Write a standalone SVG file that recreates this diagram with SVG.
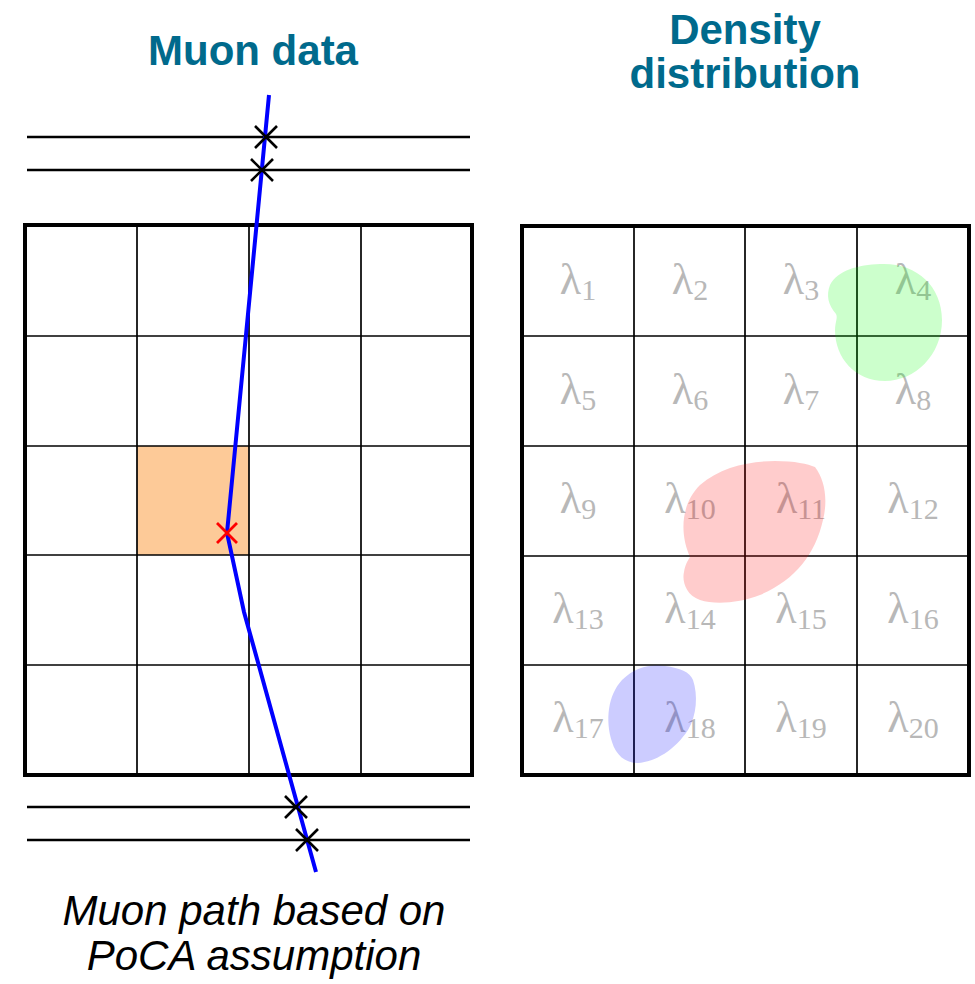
<svg xmlns="http://www.w3.org/2000/svg" width="975" height="984" viewBox="0 0 975 984">
<style>
.title{font-family:"Liberation Sans",Arial,sans-serif;font-weight:bold;font-size:42px;fill:#006a8c;text-anchor:middle}
.cap{font-family:"Liberation Sans",Arial,sans-serif;font-style:italic;font-size:42px;fill:#000;text-anchor:middle}
.lam{font-family:"Liberation Serif","Times New Roman",serif;font-size:44px;fill:#b8b8b8;text-anchor:middle}
.sub{font-size:30px}
.outer{fill:none;stroke:#000;stroke-width:4}
.inner{stroke:#000;stroke-width:1.7}
.det{stroke:#000;stroke-width:2.4}
.xk{stroke:#000;stroke-width:2.6}
</style>
<rect width="975" height="984" fill="#fff"/>
<text class="title" x="253" y="65">Muon data</text>
<text class="title" x="745" y="44">Density</text>
<text class="title" x="745" y="88">distribution</text>
<g id="left-grid">
<rect x="137" y="446" width="112" height="109" fill="#fdca98"/>
<g class="inner">
<line x1="137" y1="225" x2="137" y2="775"/><line x1="249" y1="225" x2="249" y2="775"/><line x1="361" y1="225" x2="361" y2="775"/>
<line x1="25" y1="336" x2="472" y2="336"/><line x1="25" y1="446" x2="472" y2="446"/><line x1="25" y1="555" x2="472" y2="555"/><line x1="25" y1="665" x2="472" y2="665"/>
</g>
<rect class="outer" x="25" y="225" width="447" height="550"/>
</g>
<g id="detectors" class="det">
<line x1="27" y1="137" x2="470" y2="137"/><line x1="27" y1="170" x2="470" y2="170"/>
<line x1="27" y1="807" x2="470" y2="807"/><line x1="27" y1="840" x2="470" y2="840"/>
</g>
<g id="muon-path">
<polyline points="269,95 227,533 244,612 316,872" fill="none" stroke="#0000ff" stroke-width="4"/>
</g>
<g id="hits" class="xk">
<path d="M255,126 L277,148 M277,126 L255,148"/>
<path d="M251,159 L273,181 M273,159 L251,181"/>
<path d="M285,796 L307,818 M307,796 L285,818"/>
<path d="M296,829 L318,851 M318,829 L296,851"/>
</g>
<g id="poca">
<path d="M217,523 L237,543 M237,523 L217,543" stroke="#ff0000" stroke-width="2.8"/>
</g>
<g id="right-grid">
<g class="inner">
<line x1="634" y1="226" x2="634" y2="775"/><line x1="745" y1="226" x2="745" y2="775"/><line x1="857" y1="226" x2="857" y2="775"/>
<line x1="522" y1="336" x2="969" y2="336"/><line x1="522" y1="446" x2="969" y2="446"/><line x1="522" y1="556" x2="969" y2="556"/><line x1="522" y1="665" x2="969" y2="665"/>
</g>
<g class="lam">
<text x="578" y="294">λ<tspan class="sub" dy="6">1</tspan></text>
<text x="690" y="294">λ<tspan class="sub" dy="6">2</tspan></text>
<text x="801" y="294">λ<tspan class="sub" dy="6">3</tspan></text>
<text x="913" y="294">λ<tspan class="sub" dy="6">4</tspan></text>
<text x="578" y="404">λ<tspan class="sub" dy="6">5</tspan></text>
<text x="690" y="404">λ<tspan class="sub" dy="6">6</tspan></text>
<text x="801" y="404">λ<tspan class="sub" dy="6">7</tspan></text>
<text x="913" y="404">λ<tspan class="sub" dy="6">8</tspan></text>
<text x="578" y="513">λ<tspan class="sub" dy="6">9</tspan></text>
<text x="690" y="513">λ<tspan class="sub" dy="6">10</tspan></text>
<text x="801" y="513">λ<tspan class="sub" dy="6">11</tspan></text>
<text x="913" y="513">λ<tspan class="sub" dy="6">12</tspan></text>
<text x="578" y="623">λ<tspan class="sub" dy="6">13</tspan></text>
<text x="690" y="623">λ<tspan class="sub" dy="6">14</tspan></text>
<text x="801" y="623">λ<tspan class="sub" dy="6">15</tspan></text>
<text x="913" y="623">λ<tspan class="sub" dy="6">16</tspan></text>
<text x="578" y="732">λ<tspan class="sub" dy="6">17</tspan></text>
<text x="690" y="732">λ<tspan class="sub" dy="6">18</tspan></text>
<text x="801" y="732">λ<tspan class="sub" dy="6">19</tspan></text>
<text x="913" y="732">λ<tspan class="sub" dy="6">20</tspan></text>
</g>
<path id="blob-green" d="M880,264 C915,262 942,285 942,320 C942,355 915,381 885,381 C855,381 835,358 835,330 C835,322 838,318 836,314 C828,305 826,295 830,285 C838,270 858,265 880,264 Z" fill="#00ff00" fill-opacity="0.2"/>
<path id="blob-red" d="M690,557 C680,535 680,505 700,485 C720,467 750,461 775,461 C795,461 808,464 815,467 C825,480 828,500 823,520 C815,555 795,580 760,595 C740,603 715,605 700,600 C685,595 682,580 684,572 C685,565 688,560 690,557 Z" fill="#ff0000" fill-opacity="0.2"/>
<path id="blob-blue" d="M612,742 C605,720 608,695 622,680 C635,667 650,664 665,666 C680,668 690,672 693,680 C698,695 697,715 688,730 C675,750 655,762 638,763 C625,763 616,755 612,742 Z" fill="#0000ff" fill-opacity="0.2"/>
<rect class="outer" x="522" y="226" width="447" height="549"/>
</g>
<text class="cap" x="254" y="925">Muon path based on</text>
<text class="cap" x="254" y="970">PoCA assumption</text>
</svg>
